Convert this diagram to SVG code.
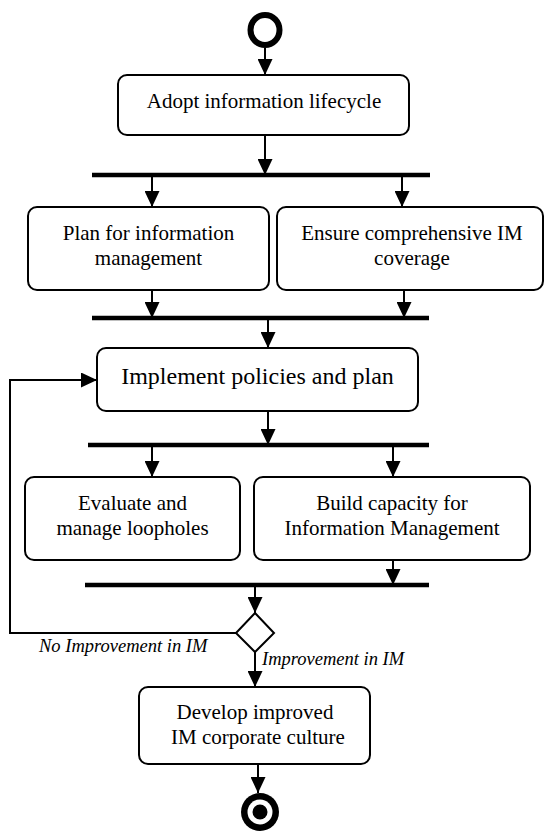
<svg xmlns="http://www.w3.org/2000/svg" width="545" height="831" viewBox="0 0 545 831">
<style>
.box{fill:#fff;stroke:#000;stroke-width:2}
.t{font-family:'Liberation Serif','Times New Roman','DejaVu Serif',serif;font-size:21px;fill:#000;text-anchor:middle}
.big{font-size:24px}
.lbl{font-family:'Liberation Serif','Times New Roman','DejaVu Serif',serif;font-size:18.5px;font-style:italic;fill:#000}
.c{fill:none;stroke:#000;stroke-width:2;marker-end:url(#ah)}
.bar{stroke:#000;stroke-width:4.5}
</style>
<defs>
<marker id="ah" markerUnits="userSpaceOnUse" markerWidth="16" markerHeight="15" viewBox="0 0 16 15" refX="16" refY="7.5" orient="auto">
<path d="M0,0 L16,7.5 L0,15 z" fill="#000"/>
</marker>
</defs>
<rect width="545" height="831" fill="#fff"/>
<g id="start"><ellipse cx="265" cy="30" rx="14.5" ry="15" fill="none" stroke="#000" stroke-width="6"/></g>
<g id="adopt"><rect class="box" x="118" y="75" width="291" height="60" rx="9"/><text class="t" x="264" y="108" font-family="Liberation Serif">Adopt information lifecycle</text></g>
<g id="fork1"><line class="bar" x1="92" y1="175" x2="430" y2="175"/></g>
<g id="plan"><rect class="box" x="28" y="207" width="241" height="83" rx="9"/><text class="t" x="148.5" y="240">Plan for information</text><text class="t" x="148.5" y="265">management</text></g>
<g id="ensure"><rect class="box" x="277" y="207" width="266" height="83" rx="9"/><text class="t" x="412" y="240">Ensure comprehensive IM</text><text class="t" x="412" y="265">coverage</text></g>
<g id="join1"><line class="bar" x1="92" y1="318" x2="429" y2="318"/></g>
<g id="implement"><rect class="box" x="97" y="348" width="321" height="63" rx="9"/><text class="t big" x="257.5" y="384">Implement policies and plan</text></g>
<g id="fork2"><line class="bar" x1="88" y1="445" x2="429" y2="445"/></g>
<g id="evaluate"><rect class="box" x="25" y="477" width="215" height="83" rx="9"/><text class="t" x="132.5" y="510">Evaluate and</text><text class="t" x="132.5" y="535">manage loopholes</text></g>
<g id="build"><rect class="box" x="254" y="477" width="276" height="83" rx="9"/><text class="t" x="392" y="510">Build capacity for</text><text class="t" x="392" y="535">Information Management</text></g>
<g id="join2"><line class="bar" x1="85" y1="585" x2="429" y2="585"/></g>
<g id="decision"><path d="M255,613 L274,633 L255,652 L236,633 z" fill="#fff" stroke="#000" stroke-width="2"/></g>
<g id="develop"><rect class="box" x="139" y="687" width="231" height="77" rx="9"/><text class="t" x="255" y="719">Develop improved</text><text class="t" x="258" y="744">IM corporate culture</text></g>
<g id="end"><circle cx="260" cy="812" r="19" fill="#000"/><circle cx="260" cy="812" r="12.5" fill="#fff"/><circle cx="260" cy="812" r="7.5" fill="#000"/></g>
<g id="connectors">
<line class="c" x1="265" y1="48" x2="265" y2="75"/>
<line class="c" x1="265" y1="135" x2="265" y2="175"/>
<line class="c" x1="152" y1="175" x2="152" y2="207"/>
<line class="c" x1="402" y1="175" x2="402" y2="207"/>
<line class="c" x1="152" y1="290" x2="152" y2="318"/>
<line class="c" x1="404" y1="290" x2="404" y2="318"/>
<line class="c" x1="268" y1="318" x2="268" y2="348"/>
<line class="c" x1="268" y1="411" x2="268" y2="445"/>
<line class="c" x1="152" y1="445" x2="152" y2="477"/>
<line class="c" x1="393" y1="445" x2="393" y2="477"/>
<line class="c" x1="393" y1="560" x2="393" y2="585"/>
<line class="c" x1="255" y1="585" x2="255" y2="613"/>
<polyline class="c" points="236,633 10,633 10,380 97,380"/>
<line class="c" x1="255" y1="652" x2="255" y2="687"/>
<line class="c" x1="258" y1="764" x2="258" y2="793"/>
<text class="lbl" x="39" y="652">No Improvement in IM</text>
<text class="lbl" x="262" y="665">Improvement in IM</text>
</g>
</svg>
